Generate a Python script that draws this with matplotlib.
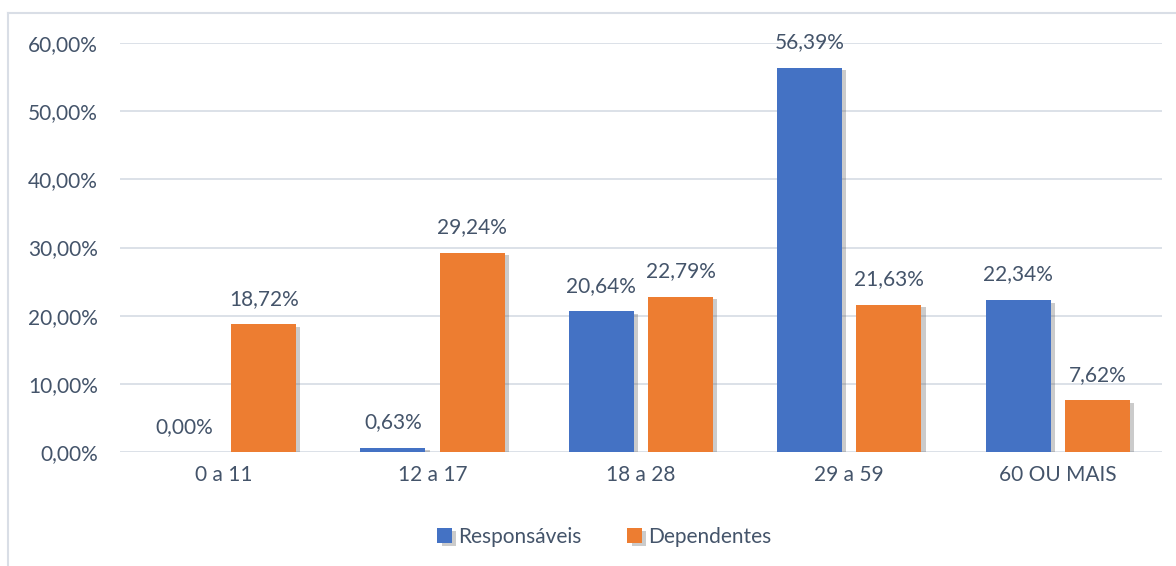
import matplotlib.pyplot as plt
import matplotlib.patheffects as pe
from matplotlib.lines import Line2D
import numpy as np

categories = ["0 a 11", "12 a 17", "18 a 28", "29 a 59", "60 OU MAIS"]
responsaveis = [0.00, 0.63, 20.64, 56.39, 22.34]
dependentes = [18.72, 29.24, 22.79, 21.63, 7.62]

BLUE = "#4472C4"
ORANGE = "#ED7D31"
TEXT = "#44546A"
GRID = "#D9DEE6"

plt.rcParams["font.family"] = ["Lato", "DejaVu Sans"]


def pct(v):
    return f"{v:.2f}%".replace(".", ",")


fig = plt.figure(figsize=(11.76, 5.66), dpi=100)
ax = fig.add_axes([0.102, 0.2014, 0.886, 0.7226])

x = np.arange(len(categories))
width = 0.312
offset = 0.19
shadow = [pe.SimplePatchShadow(offset=(3, -2), shadow_rgbFace="#555555", alpha=0.3), pe.Normal()]

b1 = ax.bar(x - offset, responsaveis, width, color=BLUE, label="Responsáveis", zorder=3)
b2 = ax.bar(x + offset, dependentes, width, color=ORANGE, label="Dependentes", zorder=3)
for bars in (b1, b2):
    for rect in bars:
        rect.set_path_effects(shadow)

for xs, vals in ((x - offset, responsaveis), (x + offset, dependentes)):
    for xi, v in zip(xs, vals):
        ax.annotate(pct(v), (xi, v), xytext=(0, 11), textcoords="offset points",
                    ha="center", va="bottom", fontsize=15, color=TEXT)

ax.set_xlim(-0.5, len(categories) - 0.5)
ax.set_ylim(0, 60)
ax.set_yticks(range(0, 61, 10))
ax.set_yticklabels([pct(v) for v in range(0, 61, 10)])
ax.set_xticks(x)
ax.set_xticklabels(categories)
ax.tick_params(axis="both", length=0, labelsize=15, colors=TEXT)
ax.tick_params(axis="y", pad=16)
ax.tick_params(axis="x", pad=9)
ax.grid(axis="y", color=GRID, linewidth=1.3, zorder=0)
for s in ax.spines.values():
    s.set_visible(False)

ax.legend(loc="center", bbox_to_anchor=(0.514, 1 - 537 / 566), ncol=2, frameon=False,
          fontsize=15, labelcolor=TEXT, handlelength=0.7, handleheight=0.7,
          handletextpad=0.3, columnspacing=2.2,
          bbox_transform=fig.transFigure)

# chart border (left and top only visible in the crop)
fig.add_artist(Line2D([8 / 1176, 8 / 1176], [0, 1 - 13 / 566], transform=fig.transFigure,
                      color=GRID, linewidth=1.5))
fig.add_artist(Line2D([8 / 1176, 1], [1 - 13 / 566, 1 - 13 / 566], transform=fig.transFigure,
                      color=GRID, linewidth=1.5))

fig.savefig("out.png", dpi=100)
